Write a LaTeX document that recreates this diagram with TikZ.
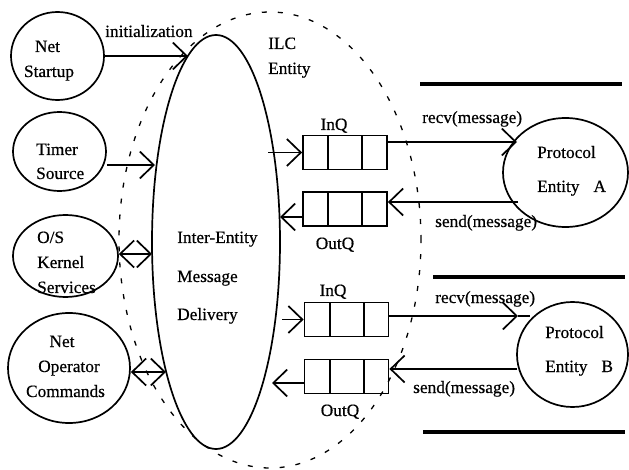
\documentclass[tikz,border=0pt]{standalone}
\usepackage{fontspec}
\setmainfont{Liberation Serif}[FakeBold=0.5]
\usetikzlibrary{arrows.meta,shapes.geometric,calc}
\begin{document}
\begin{tikzpicture}[x=1pt,y=-1pt,
  oval/.style={ellipse, draw, line width=1.7pt, inner sep=0pt},
  queue/.style={draw, line width=1.8pt, minimum width=84pt, minimum height=34pt, inner sep=0pt,
    path picture={
      \draw[line width=1.8pt]
        ($(path picture bounding box.north west)!0.3!(path picture bounding box.north east)$) --
        ($(path picture bounding box.south west)!0.3!(path picture bounding box.south east)$)
        ($(path picture bounding box.north west)!0.705!(path picture bounding box.north east)$) --
        ($(path picture bounding box.south west)!0.705!(path picture bounding box.south east)$);}},
  tip/.tip={Straight Barb[length=14pt,width=27pt]},
  arr/.style={line width=1.7pt, -tip},
  darr/.style={line width=1.7pt, tip-tip},
  conn/.style={line width=1.7pt},
  bar/.style={line width=4.5pt},
  txt/.style={inner sep=0pt, anchor=base, font=\fontsize{17.3}{20}\selectfont},
  txtw/.style={txt, anchor=base west},
]
\useasboundingbox (0,0) rectangle (629,470);

% ILC entity boundary and the delivery core
\node[oval, dashed, dash pattern=on 5pt off 11pt, line width=1.3pt,
      minimum width=302pt, minimum height=456pt] (ilc) at (270,240) {};
\node[oval, minimum width=128pt, minimum height=414pt] (ied) at (216,242) {};

% external sources
\node[oval, minimum width=93pt, minimum height=88pt] (startup) at (57.5,56) {};
\node[oval, minimum width=93pt, minimum height=79pt] (timer) at (59.5,151.5) {};
\node[oval, minimum width=105pt, minimum height=82pt] (oskern) at (65.5,256) {};
\node[oval, minimum width=122pt, minimum height=110pt] (netop) at (69,368) {};

% protocol entities
\node[oval, minimum width=125pt, minimum height=109pt] (protA) at (565.5,172.5) {};
\node[oval, minimum width=111pt, minimum height=105pt] (protB) at (572.5,354.5) {};

% message queues
\node[queue] (inqA) at (345,152.5) {};
\node[queue] (outqA) at (345,209) {};
\node[queue] (inqB) at (346.5,319.5) {};
\node[queue] (outqB) at (346.5,376.5) {};

% attachment points
\coordinate (ied-init) at (188,56);
\coordinate (ied-timer) at (155,165);
\coordinate (ied-os) at (152,254);
\coordinate (ied-netop) at (166,372);
\coordinate (ied-inA) at (268,152.5);
\coordinate (ied-outA) at (280,217);
\coordinate (ied-inB) at (282,319.5);
\coordinate (ied-outB) at (272,383);
\coordinate (pA-recv) at (517,142);
\coordinate (pA-send) at (518,202);
\coordinate (pB-tip) at (518,316);
\coordinate (pB-recv) at (530,316);
\coordinate (pB-send) at (517,369);

% connectors
\draw[arr] (startup.east) -- (ied-init);
\draw[arr] (timer.east |- ied-timer) -- (ied-timer);
\draw[darr] (oskern.east |- ied-os) -- (ied-os);
\draw[darr] (netop.east |- ied-netop) -- (ied-netop);
\draw[arr] (ied-inA) -- (inqA.west);
\draw[arr] (inqA.east |- pA-recv) -- (pA-recv);
\draw[arr] (pA-send) -- (outqA.east |- pA-send);
\draw[arr] (outqA.west |- ied-outA) -- (ied-outA);
\draw[arr] (ied-inB) -- (inqB.west);
\draw[arr] (inqB.east |- pB-tip) -- (pB-tip);
\draw[conn] (pB-tip) -- (pB-recv);
\draw[arr] (pB-send) -- (outqB.east |- pB-send);
\draw[arr] (outqB.west |- ied-outB) -- (ied-outB);

% separators
\draw[bar] (420,84) -- (622,84);
\draw[bar] (433,277) -- (625,277);
\draw[bar] (423,432) -- (625,432);

% labels
\node[txt] (l-net1) at (47.5,52) {Net};
\node[txt] (l-startup) at (49,77) {Startup};
\node[txtw] (l-timer) at (36,155) {Timer};
\node[txtw] (l-source) at (36,179) {Source};
\node[txtw] (l-os) at (37,243) {O/S};
\node[txtw] (l-kernel) at (37,268) {Kernel};
\node[txtw] (l-services) at (37,293) {Services};
\node[txt] (l-net2) at (62,347) {Net};
\node[txt] (l-operator) at (69,372) {Operator};
\node[txt] (l-commands) at (65.5,397) {Commands};
\node[txtw] (l-init) at (105,37) {initialization};
\node[txtw] (l-ilc) at (268,49) {ILC};
\node[txtw] (l-ilcent) at (268,74) {Entity};
\node[txtw] (l-inter) at (177,243) {Inter-Entity};
\node[txtw] (l-message) at (177,282) {Message};
\node[txtw] (l-delivery) at (177,320) {Delivery};
\node[txt] (l-inqA) at (334,130) {InQ};
\node[txt] (l-outqA) at (335,249) {OutQ};
\node[txt] (l-inqB) at (333,296) {InQ};
\node[txt] (l-outqB) at (340,416) {OutQ};
\node[txtw] (l-recvA) at (422,123) {recv(message)};
\node[txtw] (l-sendA) at (435,227) {send(message)};
\node[txtw] (l-recvB) at (435,303) {recv(message)};
\node[txtw] (l-sendB) at (413,393) {send(message)};
\node[txtw] (l-protA) at (537,158) {Protocol};
\node[txtw] (l-entA) at (537,192) {Entity\hspace{14pt}A};
\node[txtw] (l-protB) at (545,338) {Protocol};
\node[txtw] (l-entB) at (545,372) {Entity\hspace{14pt}B};
\end{tikzpicture}
\end{document}
